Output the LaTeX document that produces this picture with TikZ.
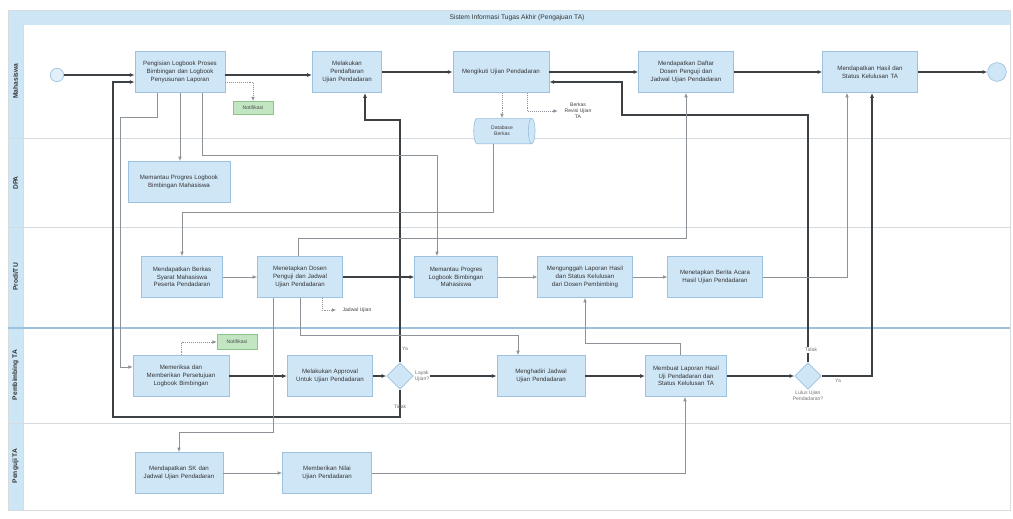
\documentclass[tikz,border=0pt]{standalone}
\usepackage{fontspec}
\setmainfont{Liberation Sans}
\usetikzlibrary{arrows.meta,calc,shapes.geometric,backgrounds}
\hyphenpenalty=10000
\exhyphenpenalty=10000

\definecolor{boxfill}{HTML}{CFE6F7}
\definecolor{boxline}{HTML}{9CC2DF}
\definecolor{lanefill}{HTML}{CDE6F6}
\definecolor{laneline}{HTML}{D6DBDF}
\definecolor{notefill}{HTML}{C2E5C2}
\definecolor{noteline}{HTML}{8DC28D}
\definecolor{flowc}{HTML}{3C4146}
\definecolor{msgc}{HTML}{8C9297}

\tikzset{
  task/.style={draw=boxline, fill=boxfill, line width=0.5pt, minimum height=31pt,
    align=center, inner sep=1pt, font=\fontsize{4.6}{5.8}\selectfont, text=black!80},
  gate/.style={diamond, aspect=1, draw=boxline, fill=boxfill, line width=0.5pt,
    minimum width=20pt, minimum height=20pt, inner sep=0pt},
  note/.style={draw=noteline, fill=notefill, line width=0.4pt, minimum width=30pt,
    minimum height=10pt, inner sep=0.5pt, font=\fontsize{3.8}{4.5}\selectfont, text=black!70},
  doctext/.style={align=center, inner sep=0.5pt, font=\fontsize{3.8}{4.6}\selectfont, text=black!75},
  docfill/.style={draw=boxline, fill=boxfill, line width=0.45pt},
  lanelabel/.style={rotate=90, font=\bfseries\fontsize{5}{6}\selectfont, text=black!80},
  gatelabel/.style={font=\fontsize{3.8}{4.6}\selectfont, text=black!55, align=center, inner sep=0.6pt},
  flow/.style={draw=flowc, line width=0.9pt, -{Latex[length=3.6pt,width=3pt]}},
  msg/.style={draw=msgc, line width=0.45pt, -{Latex[length=3.2pt,width=2.7pt]}},
  assoc/.style={msg, densely dotted},
}

\begin{document}
\hyphenpenalty=10000
\exhyphenpenalty=10000
\begin{tikzpicture}[x=0.75pt, y=-0.75pt]
  % page area
  \fill[white] (0,0) rectangle (1013,518);
  \useasboundingbox (0,0) rectangle (1013,518);

  % pool, title band and lane header column
  \fill[lanefill] (8,10) rectangle (1010,25);
  \fill[lanefill] (8,25) rectangle (23,510);
  \draw[laneline, line width=0.5pt] (8,10) rectangle (1010,510);
  \draw[laneline, line width=0.5pt] (23,25) -- (23,510);
  \draw[laneline, line width=0.5pt] (8,138) -- (1010,138);
  \draw[laneline, line width=0.5pt] (8,227) -- (1010,227);
  \draw[boxline, line width=0.8pt] (8,328) -- (1010,328);
  \draw[laneline, line width=0.5pt] (8,423) -- (1010,423);

  \node[font=\fontsize{5}{6}\selectfont, text=black!80] (title) at (517,17.5)
    {Sistem Informasi Tugas Akhir (Pengajuan TA)};

  \node[lanelabel] (l1) at (15.5,81) {Mahasiswa};
  \node[lanelabel] (l2) at (15.5,183) {DPA};
  \node[lanelabel] (l3) at (15.5,277) {Prodi/TU};
  \node[lanelabel] (l4) at (15.5,375) {Pembimbing TA};
  \node[lanelabel] (l5) at (15.5,466) {Penguji TA};

  % ---- Mahasiswa ----
  \node[circle, draw=boxline, fill=boxfill!60, line width=0.5pt, minimum size=10pt, inner sep=0pt] (start) at (57,75) {};
  \node[task, minimum width=67.5pt, text width=60pt] (A1) at (180,72)
    {Pengisian Logbook Proses Bimbingan dan Logbook Penyusunan Laporan};
  \node[task, minimum width=52pt, text width=46pt] (A2) at (347,72)
    {Melakukan Pendaftaran Ujian Pendadaran};
  \node[task, minimum width=72pt, text width=64pt] (A3) at (501,72)
    {Mengikuti Ujian Pendadaran};
  \node[task, minimum width=71pt, text width=62pt] (A4) at (686,72)
    {Mendapatkan Daftar Dosen Penguji dan Jadwal Ujian Pendadaran};
  \node[task, minimum width=71pt, text width=64pt] (A5) at (870,72)
    {Mendapatkan Hasil dan Status Kelulusan TA};
  \node[circle, draw=boxline, fill=boxfill, line width=0.5pt, minimum size=14pt, inner sep=0pt] (finish) at (997,72) {};

  \node[note] (N1) at (253,108) {Notifikasi};
  \node[cylinder, shape border rotate=0, shape aspect=0.6, draw=boxline, fill=boxfill, line width=0.5pt,
        minimum width=19pt, minimum height=46pt, inner sep=0.5pt, align=center,
        font=\fontsize{3.8}{4.6}\selectfont, text=black!75] (DB) at (502,131) {Database\\Berkas};
  \node[doctext, minimum width=30pt, minimum height=17pt] (doc1) at (578,111) {Berkas\\Revisi Ujian\\TA};

  % ---- DPA ----
  \node[task, minimum width=76.5pt, text width=68pt] (B1) at (179,182)
    {Memantau Progres Logbook Bimbingan Mahasiswa};

  % ---- Prodi/TU ----
  \node[task, minimum width=61pt, text width=56pt] (C1) at (182,277)
    {Mendapatkan Berkas Syarat Mahasiswa Peserta Pendadaran};
  \node[task, minimum width=64pt, text width=58pt] (C2) at (300,277)
    {Menetapkan Dosen Penguji dan Jadwal Ujian Pendadaran};
  \node[task, minimum width=62pt, text width=56pt] (C3) at (456,277)
    {Memantau Progres Logbook Bimbingan Mahasiswa};
  \node[task, minimum width=71pt, text width=64pt] (C4) at (585,277)
    {Mengunggah Laporan Hasil dan Status Kelulusan dari Dosen Pembimbing};
  \node[task, minimum width=71pt, text width=64pt] (C5) at (715,277)
    {Menetapkan Berita Acara Hasil Ujian Pendadaran};
  \node[doctext, minimum width=31pt, minimum height=11pt] (doc2) at (357,310) {Jadwal Ujian};

  % ---- Pembimbing TA ----
  \node[task, minimum width=72pt, text width=62pt] (P1) at (181,376)
    {Memeriksa dan Memberikan Persetujuan Logbook Bimbingan};
  \node[note, minimum height=11pt] (N2) at (237,342) {Notifikasi};
  \node[task, minimum width=64pt, text width=58pt] (P2) at (330,376)
    {Melakukan Approval Untuk Ujian Pendadaran};
  \node[gate] (D1) at (400,376) {};
  \node[task, minimum width=66pt, text width=58pt] (P3) at (541,376)
    {Menghadiri Jadwal Ujian Pendadaran};
  \node[task, minimum width=61pt, text width=56pt] (P4) at (686,376)
    {Membuat Laporan Hasil Uji Pendadaran dan Status Kelulusan TA};
  \node[gate] (D2) at (808,376) {};

  % ---- Penguji TA ----
  \node[task, minimum width=66pt, text width=58pt] (Q1) at (179,473)
    {Mendapatkan SK dan Jadwal Ujian Pendadaran};
  \node[task, minimum width=67pt, text width=58pt] (Q2) at (327,473)
    {Memberikan Nilai Ujian Pendadaran};

  % document outlines with wavy lower edge
  \begin{scope}[on background layer]
    \fill[white] (0,0) rectangle (1013,518);
    \foreach \d in {doc1,doc2}{
      \path[docfill] (\d.north west) -- (\d.north east) -- ($(\d.south east)+(0,-2)$)
        .. controls ($(\d.south)+(6,-7)$) and ($(\d.south)+(-6,6)$) .. ($(\d.south west)+(0,1)$) -- cycle;
    }
  \end{scope}

  % ---- sequence flow ----
  \draw[flow] (start) -- (start -| A1.west);
  \draw[flow] (A1.east |- start) -- (A2.west |- start);
  \draw[flow] (A2) -- (A3);
  \draw[flow] (A3) -- (A4);
  \draw[flow] (A4) -- (A5);
  \draw[flow] (A5) -- (finish);

  \draw[flow] (P1) -- (P2);
  \draw[flow] (P2.east) -- (D1.west);
  \draw[flow] (D1.east) -- (P3.west |- D1.east);
  \draw[flow] (P3) -- (P4);
  \draw[flow] (P4.east) -- (D2.west);
  \draw[flow] (C2) -- (C3);

  % gateway branches
  \draw[flow] (D1.north) |- (365,120) -- ($(A2.south)+(18,0)$);
  \draw[flow] (D1.south) |- (113,417) |- ($(A1.west)+(0,10)$);
  \draw[flow] (D2.north) |- (622,115) |- ($(A3.east)+(0,10)$);
  \draw[flow] (D2.east) -| ($(A5.south)+(2,0)$);

  % ---- message flow ----
  \draw[msg] (A1.south) -- (A1.south |- B1.north);
  \draw[msg] ($(A1.south)+(-23,0)$) |- (120,117) |- ($(P1.west)+(0,-9)$);
  \draw[msg] ($(A1.south)+(22,0)$) |- ($(C3.north)+(-19,-101)$) -- ($(C3.north)+(-19,0)$);
  \draw[msg] ($(DB.south)+(-9,0)$) |- ($(C1.north)+(0,-44)$) -- (C1.north);
  \draw[msg] (C1) -- (C2);
  \draw[msg] (C3) -- (C4);
  \draw[msg] (C4) -- (C5);
  \draw[msg] ($(C2.north)+(-2,0)$) |- ($(A4.south)+(0,145)$) -- (A4.south);
  \draw[msg] (C5.east) -| ($(A5.south)+(-23,0)$);
  \draw[msg] ($(C2.south)+(-27,0)$) |- ($(Q1.north)+(0,-20)$) -- (Q1.north);
  \draw[msg] (C2.south) |- ($(P3.north)+(-23,-20)$) -- ($(P3.north)+(-23,0)$);
  \draw[msg] ($(P4.north)+(-6,0)$) |- ($(C4.south)+(0,45)$) -- (C4.south);
  \draw[msg] (Q1) -- (Q2);
  \draw[msg] (Q2.east) -| ($(P4.south)+(-1,0)$);

  % ---- associations to notes, data and documents ----
  \draw[assoc] ($(A1.east)+(0,10)$) -| (N1.north);
  \draw[assoc] (A3.south -| DB.north) -- (DB.north);
  \draw[assoc] ($(A3.south)+(26,0)$) |- (doc1.west);
  \draw[assoc] ($(C2.south)+(22,0)$) |- (doc2.west);
  \draw[assoc] (P1.north) |- (N2.west);

  % gateway labels
  \node[gatelabel] (y1) at (405,349) {Ya};
  \node[gatelabel] (t1) at (400,407) {Tidak};
  \node[gatelabel, fill=white] (g1) at (422,376) {Layak\\Ujian?};
  \node[gatelabel, fill=white] (t2) at (811,350) {Tidak};
  \node[gatelabel] (g2) at (808,396) {Lulus Ujian\\Pendadaran?};
  \node[gatelabel] (y2) at (838,381) {Ya};
\end{tikzpicture}
\end{document}
